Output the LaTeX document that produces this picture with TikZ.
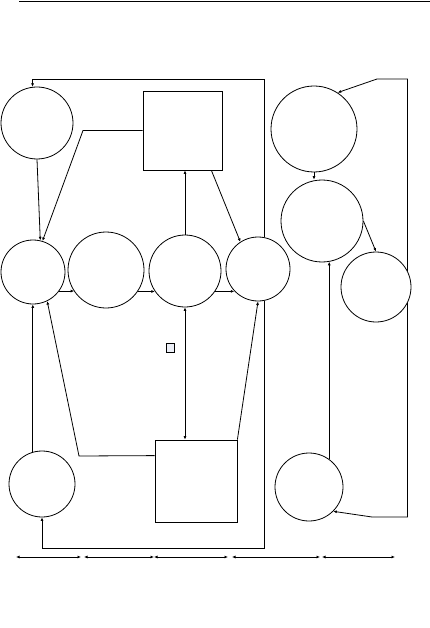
\documentclass[tikz,border=0pt]{standalone}
\usetikzlibrary{arrows.meta,calc}
\begin{document}
\begin{tikzpicture}[x=1pt,y=-1pt,
  line width=0.8pt,
  circ/.style={draw,circle,inner sep=0pt,fill=white},
  boxnode/.style={draw,rectangle,inner sep=0pt,fill=white},
  arr/.style={-{Latex[length=3.5pt,width=3pt]}},
  dbl/.style={{Latex[length=3.5pt,width=3pt]}-{Latex[length=3.5pt,width=3pt]}}]
\useasboundingbox (0,0) rectangle (430,628);
\draw (19,1.3) -- (430,1.3);
% nodes
\node[circ,minimum size=72pt] (A) at (37,123) {};
\node[circ,minimum size=64pt] (B) at (33,272) {};
\node[circ,minimum size=76pt] (C) at (106,270) {};
\node[circ,minimum size=72pt] (D) at (185,271) {};
\node[circ,minimum size=64pt] (E) at (258,269) {};
\node[circ,minimum size=86pt] (F) at (314,129) {};
\node[circ,minimum size=82pt] (G) at (322,221) {};
\node[circ,minimum size=70pt] (H) at (376,287) {};
\node[circ,minimum size=66pt] (I) at (42,484) {};
\node[circ,minimum size=68pt] (J) at (309,487) {};
\node[boxnode,minimum width=79pt,minimum height=79pt] (Box1) at (182.5,130.5) {};
\node[boxnode,minimum width=82pt,minimum height=82pt] (Box2) at (196,481) {};
\node[draw,rectangle,inner sep=0pt,minimum size=8.5pt,fill={rgb,255:red,236;green,239;blue,247},line width=0.7pt] (sq) at (170.5,348) {};
% waypoints
\coordinate (top) at (0,79);
\coordinate (bot) at (0,548);
\coordinate (k1) at (83,130.5);
\coordinate (k2) at (79,456);
\coordinate (k3) at (377,79);
\coordinate (k4) at (372,517);
% connectors
\draw[arr] (E.78) -- (E.78 |- top) -| (A.97);
\draw[arr] (A.south) -- (B.77);
\draw[arr] (Box1.west) -- (k1) -- (B.73);
\draw[arr] (D.north) -- (D.north |- Box1.south);
\draw[arr] ($(Box1.south east)+(-11,0)$) -- (E.123);
\draw[arr] (B.-36) -- (B.-36 -| C.214);
\draw[arr] (C.-34) -- (C.-34 -| D.214);
\draw[arr] (D.-34) -- (D.-34 -| E.223);
\draw[dbl] (D.south) -- (D.south |- Box2.north);
\draw[arr] (Box2.north east) -- (E.-90);
\draw[arr] ($(Box2.north west)+(0,16)$) -- (k2) -- (B.-64);
\draw[arr] (I.106) -- (I.106 |- B.south);
\draw[arr] (E.-78) -- (E.-78 |- bot) -| (I.south);
\draw[arr] (H.27) -- (H.27 |- k3) -- (k3) -- (F.57);
\draw[arr] (H.-27) -- (H.-27 |- k4) -- (k4) -- (J.-45);
\draw[arr] (F.south) -- (F.south |- G.north);
\draw[arr] (G.east) -- (H.north);
\draw[arr] (J.54) -- (J.54 |- G.-80);
% dimension lines
\coordinate (d1) at (16,557);
\coordinate (d2) at (81,557);
\coordinate (d3) at (84,557);
\coordinate (d4) at (154,557);
\coordinate (d5) at (228,557);
\coordinate (d6) at (232,557);
\coordinate (d7) at (320,557);
\coordinate (d8) at (322,557);
\coordinate (d9) at (395,557);
\draw[dbl] (d1) -- (d2);
\draw[dbl] (d3) -- (d4);
\draw[dbl] (d4) -- (d5);
\draw[dbl] (d6) -- (d7);
\draw[dbl] (d8) -- (d9);
\end{tikzpicture}
\end{document}
